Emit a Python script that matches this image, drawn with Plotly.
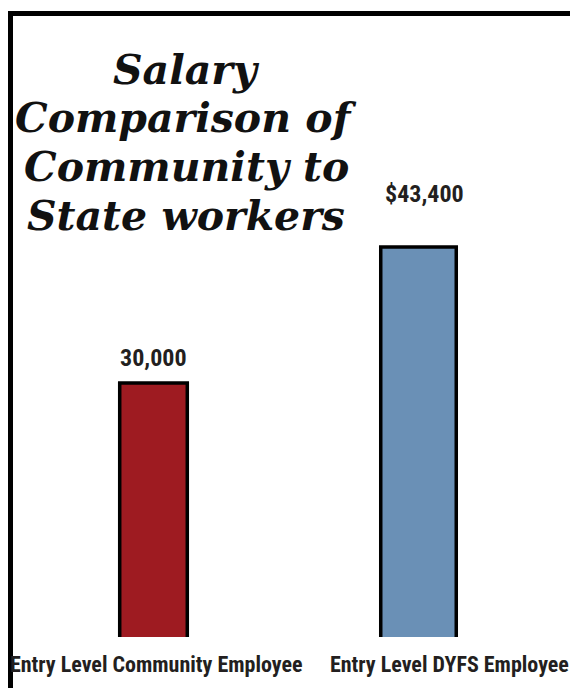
import plotly.graph_objects as go

categories = ["Entry Level Community Employee", "Entry Level DYFS Employee"]
salaries = [30000, 43400]
value_labels = ["30,000", "$43,400"]
title_lines = ["Salary", "Comparison of", "Community to", "State workers"]

bar_colors = ["#9e1b21", "#6a90b6"]
bar_widths = [0.255, 0.285]
label_yshift = [25, 53]
label_xshift = [0, 6]
cat_xshift = [2, 31]

W, H = 570, 688
ML, MR, MT, MB = 21, 19, 100, 51
Y_RANGE = [4974, 57885]

COND = "Roboto Condensed, DejaVu Sans Condensed, sans-serif"
TITLE_FONT = "DejaVu Serif, Liberation Serif, serif"

fig = go.Figure()
fig.add_trace(go.Bar(
    x=categories, y=salaries, width=bar_widths,
    marker=dict(color=bar_colors, line=dict(color="#000000", width=3.5)),
    hoverinfo="skip",
))

for cat, val, txt, ys, xs in zip(categories, salaries, value_labels, label_yshift, label_xshift):
    fig.add_annotation(x=cat, y=val, text=txt, showarrow=False, yanchor="middle",
                       yshift=ys, xshift=xs,
                       font=dict(family=COND, size=24, color="#231f20", weight="bold"))

for cat, xs in zip(categories, cat_xshift):
    fig.add_annotation(x=cat, xref="x", yref="paper", y=0, text=cat, showarrow=False,
                       yanchor="middle", yshift=-27, xshift=xs,
                       font=dict(family=COND, size=22, color="#231f20", weight="bold"))

pw = W - ML - MR
ph = H - MT - MB
def px_x(px):
    return (px - ML) / pw
def px_y(py):
    return (H - MB - py) / ph

title_centers = [70, 118, 167, 216]
for line, cy in zip(title_lines, title_centers):
    fig.add_annotation(xref="paper", yref="paper", x=px_x(186), y=px_y(cy), text=line,
                       showarrow=False, xanchor="center", yanchor="middle",
                       font=dict(family=TITLE_FONT, size=41, color="#111111",
                                 weight="bold", style="italic"))

fig.add_shape(type="rect", xref="paper", yref="paper",
              x0=px_x(10.5), x1=px_x(700), y0=px_y(900), y1=px_y(13.5),
              line=dict(color="#000000", width=5), fillcolor="rgba(0,0,0,0)", layer="above")

fig.update_layout(
    width=W, height=H,
    margin=dict(l=ML, r=MR, t=MT, b=MB, pad=0, autoexpand=False),
    paper_bgcolor="white", plot_bgcolor="white",
    showlegend=False,
    xaxis=dict(showgrid=False, showline=False, zeroline=False, ticks="",
               showticklabels=False, automargin=False, range=[-0.5, 1.5]),
    yaxis=dict(range=Y_RANGE, visible=False, showgrid=False, zeroline=False, automargin=False),
)

fig.write_html("out.html")
